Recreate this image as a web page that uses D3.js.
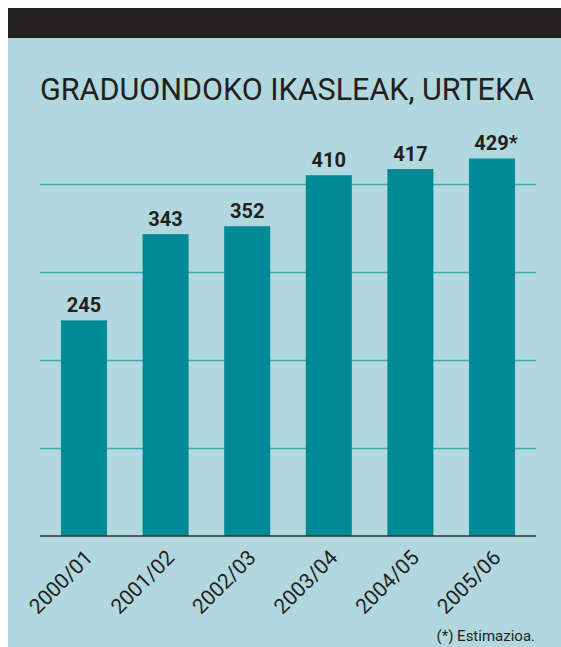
<!DOCTYPE html>
<html>
<head>
<meta charset="utf-8">
<script src="https://cdn.jsdelivr.net/npm/d3@7"></script>
<style>
  body { margin: 0; background: #fff; }
  svg { display: block; }
</style>
</head>
<body>
<div id="chart"></div>
<script>
// data
var years = ["2000/01", "2001/02", "2002/03", "2003/04", "2004/05", "2005/06"];
var students = [245, 343, 352, 410, 417, 429];
var valueLabels = ["245", "343", "352", "410", "417", "429*"];
var gridTicks = [100, 200, 300, 400];

var W = 561, H = 647;
var margin = { top: 184, right: 25, bottom: 111, left: 40 };

var svg = d3.select("#chart").append("svg")
  .attr("width", W)
  .attr("height", H);

// panel + black header
svg.append("rect")
  .attr("x", 8).attr("y", 38)
  .attr("width", W - 8).attr("height", H - 38)
  .attr("fill", "#b2d8df");

svg.append("rect")
  .attr("x", 8).attr("y", 8)
  .attr("width", W - 8).attr("height", 30)
  .attr("fill", "#231f20");

svg.append("text")
  .attr("x", 40)
  .attr("y", 100)
  .attr("font-family", "Roboto, sans-serif")
  .attr("font-size", 31)
  .attr("fill", "#231f20")
  .attr("textLength", 494)
  .attr("lengthAdjust", "spacingAndGlyphs")
  .text("GRADUONDOKO IKASLEAK, URTEKA");

// scales
var x = d3.scaleBand()
  .domain(years)
  .range([margin.left, W - margin.right])
  .paddingInner(0.436)
  .paddingOuter(0.257);

var y = d3.scaleLinear()
  .domain([0, 400])
  .range([H - margin.bottom, margin.top]);

// gridlines
var yAxis = d3.axisLeft(y)
  .tickValues(gridTicks)
  .tickSize(-(W - margin.right - margin.left))
  .tickFormat("");

svg.append("g")
  .attr("class", "grid")
  .attr("transform", "translate(" + margin.left + ",0)")
  .call(yAxis)
  .call(function (g) { g.select(".domain").remove(); })
  .call(function (g) {
    g.selectAll(".tick line")
      .attr("stroke", "#3aa6b0")
      .attr("stroke-width", 1.5);
  });

// bars
svg.selectAll(".bar")
  .data(students)
  .enter()
  .append("rect")
  .attr("class", "bar")
  .attr("x", function (d, i) { return x(years[i]); })
  .attr("y", function (d) { return y(d); })
  .attr("width", x.bandwidth())
  .attr("height", function (d) { return y(0) - y(d); })
  .attr("fill", "#008a96");

// value labels
svg.selectAll(".value")
  .data(students)
  .enter()
  .append("text")
  .attr("class", "value")
  .attr("x", function (d, i) { return x(years[i]) + x.bandwidth() / 2 + (i === 5 ? 4 : 0); })
  .attr("y", function (d) { return y(d) - 8; })
  .attr("text-anchor", "middle")
  .attr("font-family", "Roboto, sans-serif")
  .attr("font-weight", "bold")
  .attr("font-size", 20)
  .attr("fill", "#231f20")
  .text(function (d, i) { return valueLabels[i]; });

// x axis
var xAxis = d3.axisBottom(x).tickSize(0).tickPadding(0);

svg.append("g")
  .attr("class", "x-axis")
  .attr("transform", "translate(0," + y(0) + ")")
  .call(xAxis)
  .call(function (g) {
    g.select(".domain")
      .attr("d", "M" + margin.left + ",0H" + (W - margin.right))
      .attr("stroke", "#333")
      .attr("stroke-width", 1.5);
  })
  .call(function (g) {
    g.selectAll(".tick text")
      .attr("font-family", "Roboto, sans-serif")
      .attr("font-size", 21)
      .attr("fill", "#231f20")
      .attr("text-anchor", "end")
      .attr("dy", 0)
      .attr("transform", "translate(10,23) rotate(-45)");
  });

// footnote
svg.append("text")
  .attr("x", 535)
  .attr("y", 641)
  .attr("text-anchor", "end")
  .attr("font-family", "Roboto, sans-serif")
  .attr("font-size", 15)
  .attr("fill", "#231f20")
  .text("(*) Estimazioa.");
</script>
</body>
</html>
